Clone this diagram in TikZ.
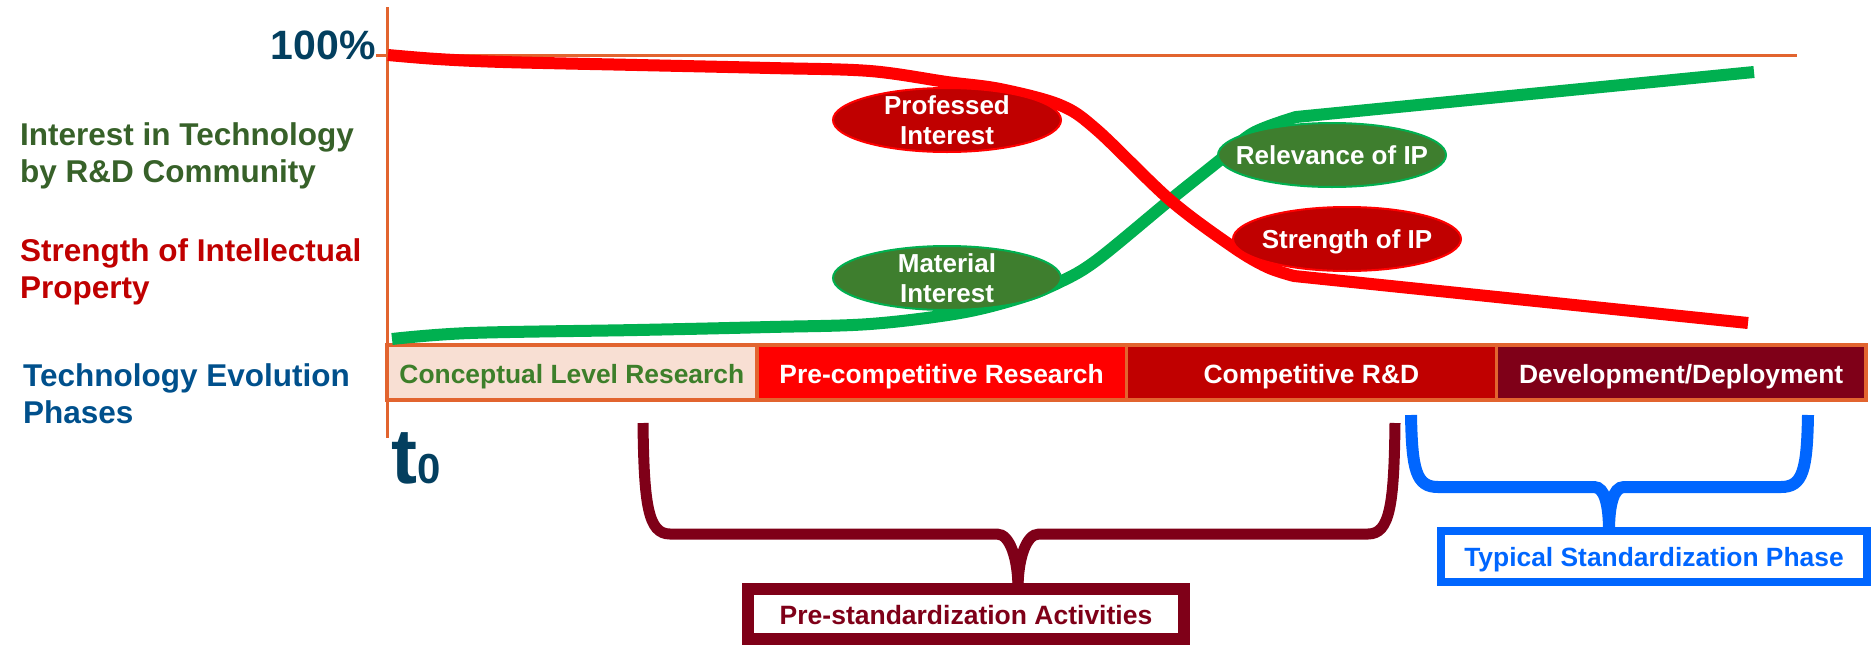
\documentclass[tikz,border=0pt]{standalone}
\usepackage{fontspec}
\setmainfont{Liberation Sans}
\usetikzlibrary{positioning,shapes.geometric}

\definecolor{axisorange}{HTML}{E2642F}
\definecolor{ipred}{HTML}{FF0000}
\definecolor{darkred}{HTML}{C00000}
\definecolor{winered}{HTML}{7F0018}
\definecolor{curvegreen}{HTML}{00B050}
\definecolor{bubgreen}{HTML}{3E7E2E}
\definecolor{labgreen}{HTML}{376129}
\definecolor{phasegreen}{HTML}{3D7F2A}
\definecolor{labblue}{HTML}{00508C}
\definecolor{inkblue}{HTML}{033F5F}
\definecolor{peach}{HTML}{F8DFD3}
\definecolor{stdblue}{HTML}{0066FF}

\newcommand{\sz}[1]{\fontsize{#1}{#1}\selectfont\bfseries}

\begin{document}
\begin{tikzpicture}[x=1pt,y=-1pt,
  phase/.style={draw=axisorange,line width=3.5pt,minimum width=369.75pt,minimum height=55pt,
    outer sep=0pt,inner sep=0pt,text height=22pt,text depth=0pt,text=white,font=\sz{26.4}},
  bubble/.style={ellipse,line width=2pt,minimum width=228pt,minimum height=64pt,inner sep=0pt},
  bubtext/.style={inner sep=0pt,align=center,text=white,font=\fontsize{26}{30}\selectfont\bfseries},
  sidelabel/.style={anchor=base west,align=left,inner sep=0pt,font=\fontsize{31.5}{37}\selectfont\bfseries},
  curve/.style={line width=12pt},
  brace/.style={line width=11pt},
  tag/.style={draw,fill=white,outer sep=0pt,inner sep=0pt,text depth=0pt}]

\useasboundingbox (0,0) rectangle (1872,646);

\draw[axisorange,line width=3pt] (387,7) -- (387,438);
\draw[axisorange,line width=3pt] (376,55) -- (1797,55);

\node[anchor=base east,inner sep=0pt,text=inkblue,font=\sz{41}] (full) at (376,59) {100\%};
\node[anchor=base west,inner sep=0pt,text=inkblue] (tzero) at (391,483) {\sz{78}t\sz{42}0};

\node[sidelabel,text=labgreen] (interest) at (20,182) {Interest in Technology\\by R\&D Community};
\node[sidelabel,text=darkred] (strength) at (20,298) {Strength of Intellectual\\Property};
\node[sidelabel,text=labblue] (evolution) at (23,423) {Technology Evolution\\Phases};

\node[phase,fill=peach,text=phasegreen,anchor=north west] (concept) at (387,345) {Conceptual Level Research};
\node[phase,fill=ipred,right=0pt of concept] (precomp) {Pre-competitive Research};
\node[phase,fill=darkred,right=0pt of precomp] (comp) {Competitive R\&D};
\node[phase,fill=winered,right=0pt of comp] (deploy) {Development/Deployment};

\draw[curve,curvegreen] plot[smooth,tension=0.55] coordinates {(392,339) (470,333) (637,330) (770,327)
  (870,324) (960,313) (1020,298) (1060,282) (1097,260) (1170,200) (1220,160) (1253,133) (1296,117)} -- (1754,72);
\draw[curve,ipred] plot[smooth,tension=0.55] coordinates {(388,55) (437,59) (503,62) (637,65) (770,68)
  (870,71) (947,82) (1000,89) (1060,105) (1097,130) (1170,200) (1233,247) (1267,267) (1294,276)} -- (1748,323);

\node[bubble,draw=ipred,fill=darkred] (profbub) at (947,120) {};
\node[bubtext] (proftext) at (profbub) {Professed\\Interest};
\node[bubble,draw=curvegreen,fill=bubgreen] (matbub) at (947,278) {};
\node[bubtext] (mattext) at (matbub) {Material\\Interest};
\node[bubble,draw=curvegreen,fill=bubgreen] (relbub) at (1332,155) {};
\node[bubtext] (reltext) at (relbub) {Relevance of IP};
\node[bubble,draw=ipred,fill=darkred] (strbub) at (1347,239) {};
\node[bubtext,text depth=0pt] (strtext) at (strbub) {Strength of IP};

\coordinate (preL) at (643,423);
\coordinate (preR) at (1395,423);
\coordinate (stdL) at (1411,415);
\coordinate (stdR) at (1808,415);

\node[tag,draw=winered,text=winered,line width=12pt,minimum width=436pt,minimum height=50pt,
  text height=20pt,font=\sz{26.5}] (prebox) at (966,614) {Pre-standardization Activities};
\node[tag,draw=stdblue,text=stdblue,line width=8pt,minimum width=426pt,minimum height=51pt,
  text height=19pt,font=\sz{26.4}] (stdbox) at (1654,556.5) {Typical Standardization Phase};

\draw[brace,winered] (preL) .. controls (644,505) and (648,534) .. (670,534) -- (997,534)
  .. controls +(13,0) and +(0,-30) .. ([xshift=52pt]prebox.north);
\draw[brace,winered] (preR) .. controls (1394,505) and (1390,534) .. (1368,534) -- (1039,534)
  .. controls +(-13,0) and +(0,-30) .. ([xshift=52pt]prebox.north);
\draw[brace,stdblue,line width=12pt] (stdL) .. controls (1412,470) and (1416,487) .. (1438,487) -- (1594,487)
  .. controls +(11,0) and +(0,-25) .. ([xshift=-45pt]stdbox.north);
\draw[brace,stdblue,line width=12pt] (stdR) .. controls (1807,470) and (1803,487) .. (1781,487) -- (1624,487)
  .. controls +(-11,0) and +(0,-25) .. ([xshift=-45pt]stdbox.north);
\end{tikzpicture}
\end{document}
